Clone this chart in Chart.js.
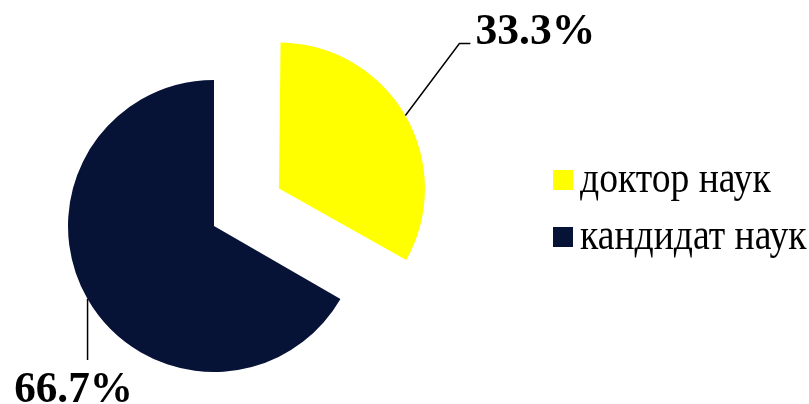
<!DOCTYPE html>
<html lang="ru">
<head>
<meta charset="UTF-8">
<title>Учёные степени</title>
<script src="https://cdn.jsdelivr.net/npm/chart.js"></script>
<style>
  body { margin: 0; background: #fff; }
  .chart-box { position: relative; width: 809px; height: 404px; }
</style>
</head>
<body>
<div class="chart-box"><canvas id="degreeChart"></canvas></div>
<script>
const categories = ["доктор наук", "кандидат наук"];
const counts = [1, 2];
const colors = ["#FFFF00", "#061236"];

const SERIF = '"Liberation Serif", "Times New Roman", serif';
const RADIUS = 146;
const offsets = [300, 0]; // arc.draw moves a slice by offset / 4

const total = counts.reduce((a, b) => a + b, 0);
const percentLabels = counts.map(v => (v / total * 100).toFixed(1) + "%");

// leader line and label placement, relative to the point on the slice edge
const leaders = [
    { elbow: [54, -72], end: [65, -72], text: [70, -72], align: "left", squeeze: 0.97 },
    { elbow: [0, 61], end: [0, 61], text: [-14, 103], align: "center", squeeze: 0.96 }
];

function squeezedText(ctx, text, x, y, squeeze) {
    const w = ctx.measureText(text).width * squeeze;
    ctx.fillText(text, x, y, w);
}

const sliceLabels = {
    id: "sliceLabels",
    beforeDatasetsDraw(chart) {
        // an offset slice is also grown by offset/4 * (1 - sin(circ)); keep it at chart radius
        chart.getDatasetMeta(0).data.forEach((arc, i) => {
            const shift = offsets[i] / 4;
            const circ = arc.endAngle - arc.startAngle;
            arc.outerRadius = RADIUS - shift * (1 - Math.sin(Math.min(Math.PI, circ)));
        });
    },
    afterDatasetsDraw(chart) {
        const ctx = chart.ctx;
        const arcs = chart.getDatasetMeta(0).data;
        ctx.save();
        ctx.strokeStyle = "#000";
        ctx.lineWidth = 1.5;
        ctx.fillStyle = "#000";
        ctx.font = "bold 45px " + SERIF;
        ctx.textBaseline = "alphabetic";
        arcs.forEach((arc, i) => {
            const mid = (arc.startAngle + arc.endAngle) / 2;
            const r = RADIUS + offsets[i] / 4;
            const ex = arc.x + Math.cos(mid) * r;
            const ey = arc.y + Math.sin(mid) * r;
            const l = leaders[i];
            ctx.beginPath();
            ctx.moveTo(ex, ey);
            ctx.lineTo(ex + l.elbow[0], ey + l.elbow[1]);
            ctx.lineTo(ex + l.end[0], ey + l.end[1]);
            ctx.stroke();
            ctx.textAlign = l.align;
            squeezedText(ctx, percentLabels[i], ex + l.text[0], ey + l.text[1], l.squeeze);
        });

        // legend
        ctx.font = "44px " + SERIF;
        ctx.textAlign = "left";
        categories.forEach((name, i) => {
            const top = 170 + i * 57;
            ctx.fillStyle = colors[i];
            ctx.fillRect(553, top, 20, 20);
            ctx.fillStyle = "#000";
            squeezedText(ctx, name, 580, top + 22, 0.855);
        });
        ctx.restore();
    }
};

new Chart(document.getElementById("degreeChart"), {
    type: "pie",
    data: {
        labels: categories,
        datasets: [{
            data: counts,
            backgroundColor: colors,
            borderWidth: 0,
            offset: offsets
        }]
    },
    options: {
        responsive: true,
        maintainAspectRatio: false,
        animation: false,
        radius: RADIUS,
        layout: { padding: { left: 0, top: 48, right: 381, bottom: 0 } },
        plugins: {
            legend: { display: false },
            tooltip: { enabled: false }
        }
    },
    plugins: [sliceLabels]
});
</script>
</body>
</html>
